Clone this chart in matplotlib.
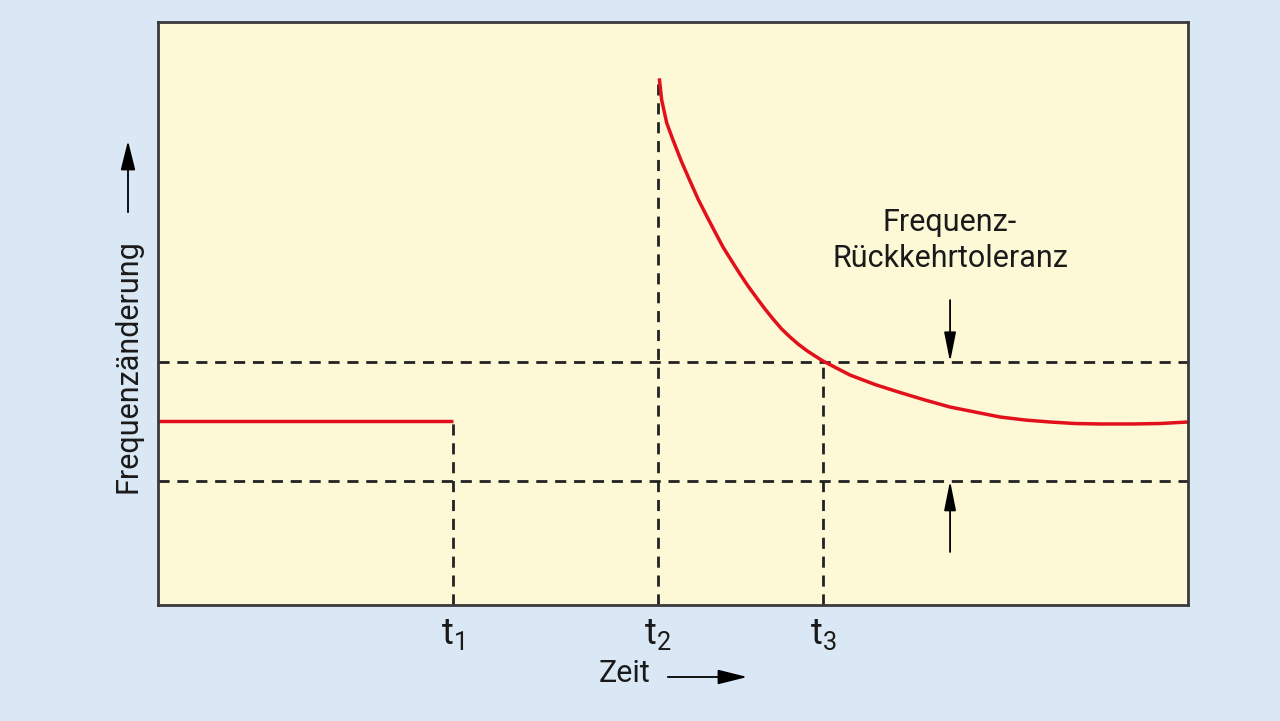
import numpy as np
import matplotlib.pyplot as plt
from matplotlib.patches import FancyArrowPatch

plt.rcParams['font.family'] = ['Roboto', 'DejaVu Sans']
plt.rcParams['mathtext.fontset'] = 'custom'
plt.rcParams['mathtext.rm'] = 'Roboto'
plt.rcParams['mathtext.it'] = 'Roboto'

# data (arbitrary units, 0..100 on both axes)
t_marks = [28.6, 48.5, 64.6]
t_labels = [r'$\mathrm{t}_1$', r'$\mathrm{t}_2$', r'$\mathrm{t}_3$']
tol_upper = 41.7
tol_lower = 21.3
level_before = 31.6
peak = 90.3

curve_x = [48.67, 48.90, 49.39, 50.0, 50.84, 51.65, 52.43, 53.27, 54.08, 54.85,
           55.70, 56.50, 57.28, 58.13, 58.93, 59.71, 60.55, 61.36, 62.14, 62.98,
           63.79, 64.56, 67.18, 69.61, 72.04, 74.47, 76.89, 79.32, 81.75, 84.17,
           86.60, 89.03, 91.46, 94.66, 97.28, 100.0]
curve_y = [90.34, 86.62, 82.68, 79.76, 75.99, 72.73, 69.64, 66.72, 63.98, 61.41,
           59.01, 56.78, 54.72, 52.66, 50.77, 49.06, 47.34, 45.97, 44.77, 43.65,
           42.71, 41.85, 39.45, 37.82, 36.45, 35.16, 33.96, 33.10, 32.25, 31.73,
           31.39, 31.13, 31.05, 31.05, 31.13, 31.39]

arrow_x = 76.9

bg = '#d9e8f4'
face = '#fdf8d6'
red = '#e2101b'
ink = '#1a1a1a'

fig = plt.figure(figsize=(12.8, 7.21), dpi=100, facecolor=bg)
ax = fig.add_axes([158/1280, 116/721, 1030/1280, 583/721])
ax.set_facecolor(face)
ax.set_xlim(0, 100)
ax.set_ylim(0, 100)

dash = (0, (4, 2.8))
dk = '#222222'
ax.axhline(tol_upper, color=dk, lw=2, ls=dash)
ax.axhline(tol_lower, color=dk, lw=2, ls=dash)
ax.plot([t_marks[0]] * 2, [0, level_before], color=dk, lw=2, ls=dash)
ax.plot([t_marks[1]] * 2, [0, peak], color=dk, lw=2, ls=dash)
ax.plot([t_marks[2]] * 2, [0, tol_upper], color=dk, lw=2, ls=dash)

ax.plot([0, t_marks[0]], [level_before, level_before], color=red, lw=2.5,
        solid_capstyle='butt')
ax.plot(curve_x, curve_y, color=red, lw=2.5, solid_capstyle='butt',
        solid_joinstyle='round')

# tolerance arrows
head = '-|>,head_length=1.8,head_width=0.36'
ax.annotate('', xy=(arrow_x, tol_upper), xytext=(arrow_x, tol_upper + 10.6),
            arrowprops=dict(arrowstyle=head, mutation_scale=10, lw=1.3,
                            color='black', shrinkA=0, shrinkB=0))
ax.annotate('', xy=(arrow_x, tol_lower), xytext=(arrow_x, tol_lower - 12.2),
            arrowprops=dict(arrowstyle=head, mutation_scale=10, lw=1.3,
                            color='black', shrinkA=0, shrinkB=0))
ax.text(arrow_x, 62.5, 'Frequenz-\nRückkehrtoleranz', ha='center', va='center',
        fontsize=22, linespacing=1.3, color=ink)

ax.set_xticks(t_marks)
ax.set_xticklabels(t_labels, fontsize=26, color=ink)
ax.tick_params(axis='x', length=0, pad=8)
ax.set_yticks([])
for s in ax.spines.values():
    s.set_color('#3a3a3a')
    s.set_linewidth(2)

# axis titles with arrows
fig.text(625/1280, 1 - 673/721, 'Zeit', ha='center', va='center', fontsize=22,
         color=ink)
fig.text(128/1280, 1 - 366/721, 'Frequenzänderung', ha='center', va='center',
         rotation=90, fontsize=22, color=ink)
fhead = '-|>,head_length=1.8,head_width=0.45'
fig.add_artist(FancyArrowPatch(
    (665/1280, 1 - 677/721), (750/1280, 1 - 677/721), transform=fig.transFigure,
    arrowstyle=fhead, mutation_scale=10, lw=1.3, color='black'))
fig.add_artist(FancyArrowPatch(
    (128/1280, 1 - 215/721), (128/1280, 1 - 138/721), transform=fig.transFigure,
    arrowstyle=fhead, mutation_scale=10, lw=1.3, color='black'))

fig.savefig('out.png', dpi=100, facecolor=bg)
